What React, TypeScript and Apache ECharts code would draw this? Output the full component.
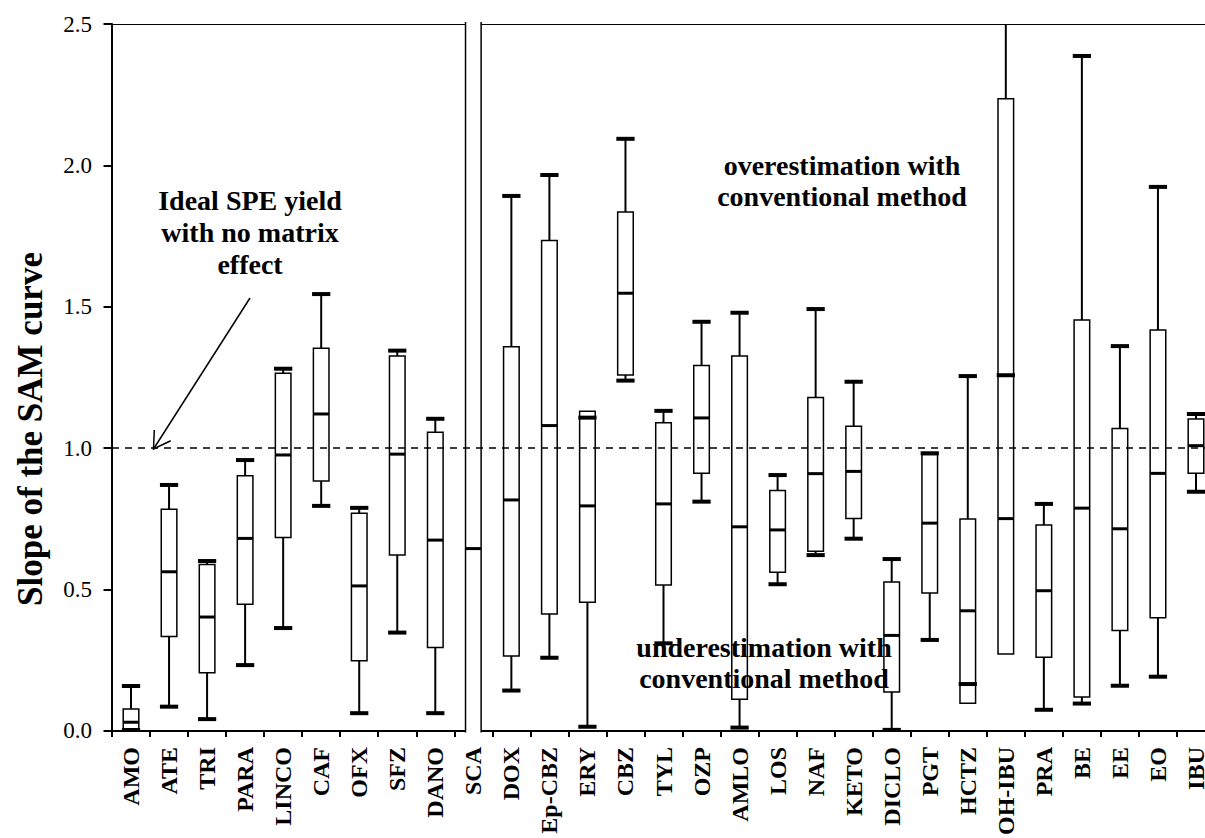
import React, { useEffect, useRef } from "react";
import * as echarts from "echarts";

const categories = [
  "AMO", "ATE", "TRI", "PARA", "LINCO", "CAF", "OFX", "SFZ", "DANO", "SCA",
  "DOX", "Ep-CBZ", "ERY", "CBZ", "TYL", "OZP", "AMLO", "LOS", "NAF", "KETO",
  "DICLO", "PGT", "HCTZ", "OH-IBU", "PRA", "BE", "EE", "EO", "IBU",
];
// 10th percentile (lower whisker cap)
const lowWhisker = [
  0.0, 0.086, 0.042, 0.233, 0.364, 0.796, 0.063, 0.348, 0.063, -0.5,
  0.143, 0.259, 0.015, 1.239, 0.31, 0.811, 0.012, 0.519, 0.622, 0.68,
  0.004, 0.322, 0.166, 1.258, 0.075, 0.097, 0.16, 0.192, 0.846,
];
// 25th percentile (box bottom)
const q1 = [
  0.003, 0.334, 0.206, 0.448, 0.684, 0.884, 0.248, 0.622, 0.295, -0.5,
  0.265, 0.414, 0.455, 1.259, 0.516, 0.911, 0.112, 0.561, 0.636, 0.751,
  0.138, 0.488, 0.098, 0.272, 0.261, 0.12, 0.355, 0.4, 0.911,
];
const median = [
  0.031, 0.563, 0.403, 0.681, 0.976, 1.121, 0.513, 0.979, 0.675, 0.645,
  0.817, 1.08, 0.796, 1.548, 0.803, 1.107, 0.722, 0.711, 0.91, 0.918,
  0.338, 0.735, 0.425, 0.751, 0.496, 0.788, 0.715, 0.911, 1.009,
];
// 75th percentile (box top)
const q3 = [
  0.078, 0.784, 0.589, 0.903, 1.265, 1.353, 0.77, 1.326, 1.056, 3.0,
  1.359, 1.734, 1.131, 1.835, 1.09, 1.292, 1.326, 0.85, 1.179, 1.078,
  0.527, 0.978, 0.75, 2.236, 0.728, 1.453, 1.07, 1.418, 1.103,
];
// 90th percentile (upper whisker cap)
const highWhisker = [
  0.159, 0.87, 0.601, 0.958, 1.281, 1.545, 0.789, 1.345, 1.104, 3.0,
  1.892, 1.966, 1.108, 2.094, 1.132, 1.447, 1.479, 0.905, 1.492, 1.235,
  0.608, 0.982, 1.255, 2.8, 0.803, 2.387, 1.361, 1.924, 1.121,
];

const yMin = 0;
const yMax = 2.5;
const yStep = 0.5;
const idealLine = 1.0;

const FONT = "'Liberation Serif', 'Times New Roman', serif";

export default function App() {
  const ref = useRef<HTMLDivElement>(null);

  useEffect(() => {
    document.body.style.margin = "0";
    document.body.style.overflow = "hidden";
    document.documentElement.style.overflow = "hidden";
    const chart = echarts.init(ref.current as HTMLDivElement, null, { renderer: "svg" });

    const data = categories.map((_, i) => [i, lowWhisker[i], q1[i], median[i], q3[i], highWhisker[i]]);

    const ln = (x1: number, y1: number, x2: number, y2: number, w: number) => ({
      type: "line",
      shape: { x1, y1, x2, y2 },
      style: { stroke: "#000", lineWidth: w, fill: null },
    });

    const renderItem = (params: any, api: any) => {
      const idx = api.value(0);
      const cs = params.coordSys;
      const top = cs.y;
      const bottom = cs.y + cs.height;
      const band = api.size([1, 0])[0];
      const boxW = band * 0.41;
      const capW = band * 0.48;
      const cx = api.coord([idx, 0])[0];
      const py = (v: number) => api.coord([idx, v])[1];
      const lo = api.value(1);
      const a = api.value(2);
      const m = api.value(3);
      const b = api.value(4);
      const hi = api.value(5);
      const clampY = (p: number) => Math.max(top, Math.min(bottom, p));
      const inRange = (v: number) => v >= yMin && v <= yMax;
      const children: any[] = [];

      if (hi > b) children.push(ln(cx, clampY(py(b)), cx, clampY(py(hi)), 2));
      if (lo < a) children.push(ln(cx, clampY(py(a)), cx, clampY(py(lo)), 2));

      const yTop = py(b);
      const yBot = py(a);
      const xl = cx - boxW / 2;
      const xr = cx + boxW / 2;
      if (inRange(a) && inRange(b)) {
        children.push({
          type: "rect",
          shape: { x: xl, y: yTop, width: boxW, height: yBot - yTop },
          style: { fill: "#fff", stroke: "#000", lineWidth: 1.5 },
        });
      } else {
        const rTop = inRange(b) ? yTop : top - 2;
        const rBot = inRange(a) ? yBot : bottom + 1.5;
        children.push({
          type: "rect",
          shape: { x: xl, y: rTop, width: boxW, height: rBot - rTop },
          style: { fill: "#fff", stroke: null },
        });
        children.push(ln(xl, rTop, xl, rBot, 1.5));
        children.push(ln(xr, rTop, xr, rBot, 1.5));
        if (inRange(b)) children.push(ln(xl, yTop, xr, yTop, 1.5));
        if (inRange(a)) children.push(ln(xl, yBot, xr, yBot, 1.5));
      }

      children.push(ln(xl, py(m), xr, py(m), 3));
      if (inRange(hi)) children.push(ln(cx - capW / 2, py(hi), cx + capW / 2, py(hi), 4));
      if (inRange(lo)) children.push(ln(cx - capW / 2, Math.min(py(lo), bottom - 1), cx + capW / 2, Math.min(py(lo), bottom - 1), 4));

      return { type: "group", children };
    };

    const option: any = {
      animation: false,
      backgroundColor: "#fff",
      grid: { left: 112, right: 0, top: 24, bottom: 107 },
      xAxis: [
        {
          type: "category",
          data: categories,
          boundaryGap: true,
          axisLine: { show: true, lineStyle: { color: "#000", width: 2 } },
          axisTick: { show: true, length: 6, interval: 0, lineStyle: { color: "#000", width: 2 } },
          axisLabel: {
            interval: 0,
            rotate: 90,
            margin: 16,
            fontFamily: FONT,
            fontWeight: "bold",
            fontSize: 24,
            color: "#000",
          },
          splitLine: { show: false },
        },
        {
          type: "category",
          data: categories,
          position: "top",
          axisLine: { show: true, lineStyle: { color: "#000", width: 1.2 } },
          axisTick: { show: false },
          axisLabel: { show: false },
          splitLine: { show: false },
        },
      ],
      yAxis: {
        type: "value",
        min: yMin,
        max: yMax,
        interval: yStep,
        axisLine: { show: true, lineStyle: { color: "#000", width: 2 } },
        axisTick: { show: true, length: 8.5, lineStyle: { color: "#000", width: 2 } },
        axisLabel: {
          margin: 20,
          fontFamily: FONT,
          fontSize: 23,
          color: "#000",
          formatter: (v: number) => v.toFixed(1),
        },
        splitLine: { show: false },
      },
      series: [
        {
          type: "custom",
          xAxisIndex: 0,
          yAxisIndex: 0,
          renderItem,
          encode: { x: 0, y: [1, 2, 3, 4, 5] },
          data,
          markLine: {
            silent: true,
            symbol: "none",
            label: { show: false },
            lineStyle: { color: "#000", width: 1.5, type: [7, 6] },
            data: [{ yAxis: idealLine }],
          },
        },
      ],
      graphic: [
        {
          type: "text",
          z: 100,
          x: 30,
          y: 429,
          rotation: Math.PI / 2,
          style: {
            text: "Slope of the SAM curve",
            fontFamily: FONT,
            fontWeight: "bold",
            fontSize: 35,
            fill: "#000",
            align: "center",
            verticalAlign: "middle",
          },
        },
        {
          type: "text",
          z: 100,
          x: 250,
          y: 232,
          style: {
            text: "Ideal SPE yield\nwith no matrix\neffect",
            fontFamily: FONT,
            fontWeight: "bold",
            fontSize: 28,
            lineHeight: 32,
            fill: "#000",
            align: "center",
            verticalAlign: "middle",
          },
        },
        {
          type: "text",
          z: 100,
          x: 842,
          y: 181,
          style: {
            text: "overestimation with\nconventional method",
            fontFamily: FONT,
            fontWeight: "bold",
            fontSize: 28,
            lineHeight: 31,
            fill: "#000",
            align: "center",
            verticalAlign: "middle",
          },
        },
        {
          type: "text",
          z: 100,
          x: 764,
          y: 663,
          style: {
            text: "underestimation with\nconventional method",
            fontFamily: FONT,
            fontWeight: "bold",
            fontSize: 28,
            lineHeight: 31,
            fill: "#000",
            align: "center",
            verticalAlign: "middle",
          },
        },
        {
          type: "line",
          z: 100,
          shape: { x1: 250, y1: 298, x2: 153.5, y2: 449 },
          style: { stroke: "#000", lineWidth: 1.5 },
        },
        {
          type: "polyline",
          z: 100,
          shape: { points: [[154.3, 430], [153.5, 449], [170.7, 440.7]] },
          style: { stroke: "#000", lineWidth: 1.5, fill: null },
        },
      ],
    };

    chart.setOption(option);
    return () => chart.dispose();
  }, []);

  return <div ref={ref} style={{ width: 1215, height: 838 }} />;
}
